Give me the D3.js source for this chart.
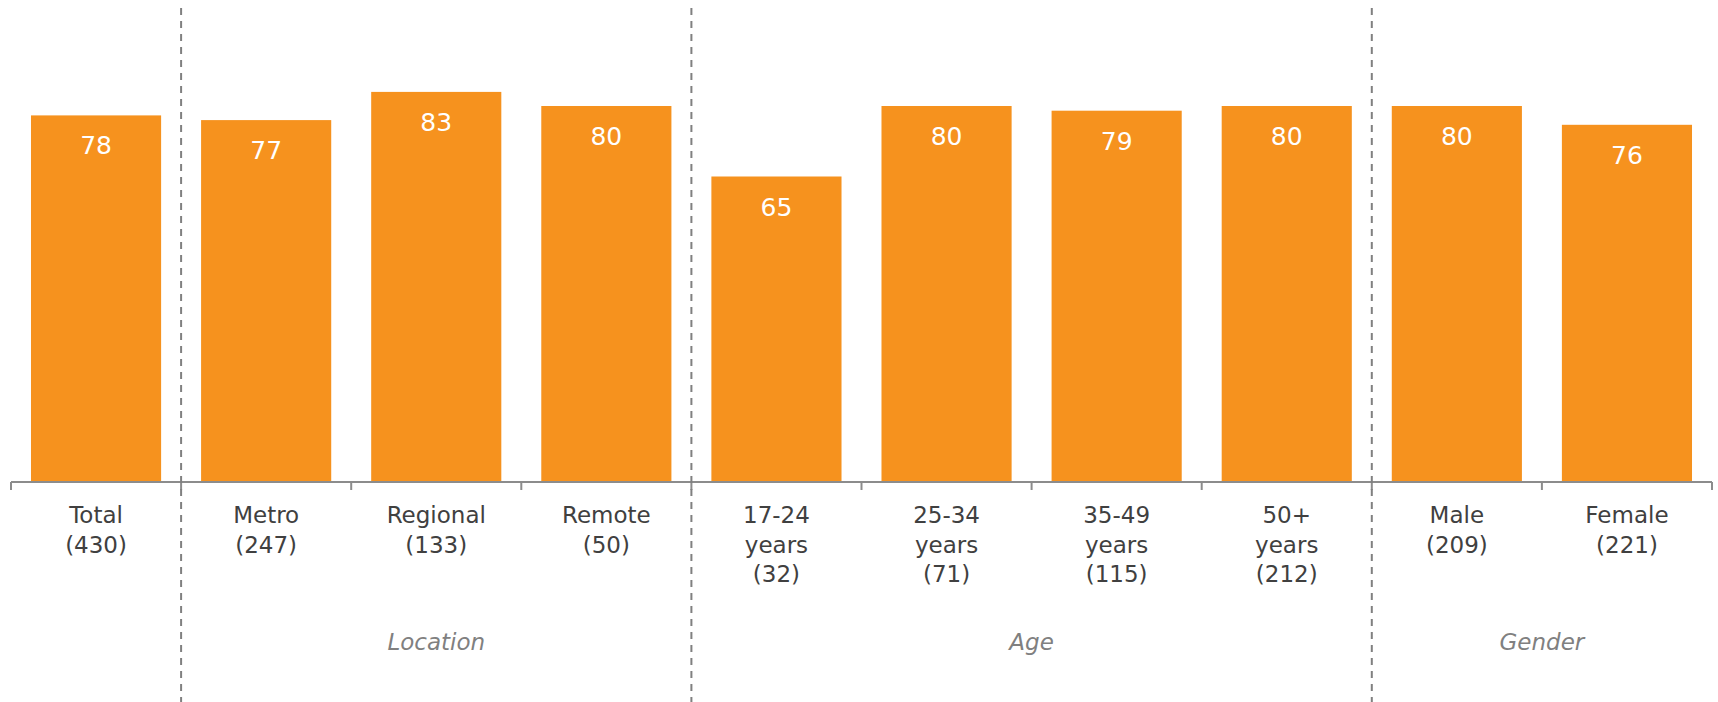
<!DOCTYPE html>
<html>
<head>
<meta charset="utf-8">
<script src="https://cdn.jsdelivr.net/npm/d3@7"></script>
<style>
  body { margin: 0; background: #fff; }
  svg { display: block; font-family: "DejaVu Sans", Verdana, sans-serif; }
</style>
</head>
<body>
<div id="chart"></div>
<script>
// data
var categories = ["Total", "Metro", "Regional", "Remote", "17-24", "25-34", "35-49", "50+", "Male", "Female"];
var labelLines = [
  ["Total", "(430)"],
  ["Metro", "(247)"],
  ["Regional", "(133)"],
  ["Remote", "(50)"],
  ["17-24", "years", "(32)"],
  ["25-34", "years", "(71)"],
  ["35-49", "years", "(115)"],
  ["50+", "years", "(212)"],
  ["Male", "(209)"],
  ["Female", "(221)"]
];
var values = [78, 77, 83, 80, 65, 80, 79, 80, 80, 76];
var groups = [
  { name: "Location", from: "Metro", to: "Remote" },
  { name: "Age", from: "17-24", to: "50+" },
  { name: "Gender", from: "Male", to: "Female" }
];

var width = 1718, height = 702;
var svg = d3.select("#chart").append("svg")
  .attr("width", width)
  .attr("height", height);

var x = d3.scaleBand()
  .domain(categories)
  .range([11, 1712])
  .paddingInner(0.235)
  .paddingOuter(0.1175);

var y = d3.scaleLinear().domain([0, 100]).range([482, 12]);

var step = x.step();
function bandStart(c) { return x(c) - x.paddingOuter() * step; }

// bars
svg.append("g").selectAll("rect")
  .data(values)
  .enter()
  .append("rect")
  .attr("x", function(d, i) { return x(categories[i]); })
  .attr("y", function(d) { return y(d); })
  .attr("width", x.bandwidth())
  .attr("height", function(d) { return y(0) - y(d); })
  .attr("fill", "#F6921E");

// value labels
svg.append("g").selectAll("text")
  .data(values)
  .enter()
  .append("text")
  .attr("x", function(d, i) { return x(categories[i]) + x.bandwidth() / 2; })
  .attr("y", function(d) { return y(d) + 39; })
  .attr("text-anchor", "middle")
  .attr("fill", "#fff")
  .style("font-size", "25px")
  .text(function(d) { return d; });

// axis line and ticks at band boundaries
var axis = svg.append("g");
axis.append("line")
  .attr("x1", 11).attr("x2", 1712)
  .attr("y1", y(0)).attr("y2", y(0))
  .attr("stroke", "#8c8c8c").attr("stroke-width", 2);

var edges = categories.map(bandStart).concat([1712]);
axis.selectAll(".tick")
  .data(edges)
  .enter()
  .append("line")
  .attr("class", "tick")
  .attr("x1", function(d) { return d; }).attr("x2", function(d) { return d; })
  .attr("y1", y(0)).attr("y2", y(0) + 8)
  .attr("stroke", "#8c8c8c").attr("stroke-width", 2);

// category labels
var lbl = svg.append("g").selectAll("text")
  .data(labelLines)
  .enter()
  .append("text")
  .attr("text-anchor", "middle")
  .attr("fill", "#404040")
  .style("font-size", "23px")
  .attr("transform", function(d, i) {
    return "translate(" + (x(categories[i]) + x.bandwidth() / 2) + ",523)";
  });
lbl.selectAll("tspan")
  .data(function(d) { return d; })
  .enter()
  .append("tspan")
  .attr("x", 0)
  .attr("y", function(d, i) { return i * 29.5; })
  .text(function(d) { return d; });

// group dividers and names
groups.forEach(function(g) {
  var x0 = bandStart(g.from);
  var x1 = bandStart(g.to) + step;
  svg.append("line")
    .attr("x1", x0).attr("x2", x0)
    .attr("y1", 8).attr("y2", height)
    .attr("stroke", "#808080")
    .attr("stroke-width", 2)
    .attr("stroke-dasharray", "7,6");
  svg.append("text")
    .attr("x", (x0 + x1) / 2)
    .attr("y", 650)
    .attr("text-anchor", "middle")
    .attr("fill", "#808080")
    .style("font-size", "23px")
    .style("font-style", "italic")
    .text(g.name);
});
</script>
</body>
</html>
